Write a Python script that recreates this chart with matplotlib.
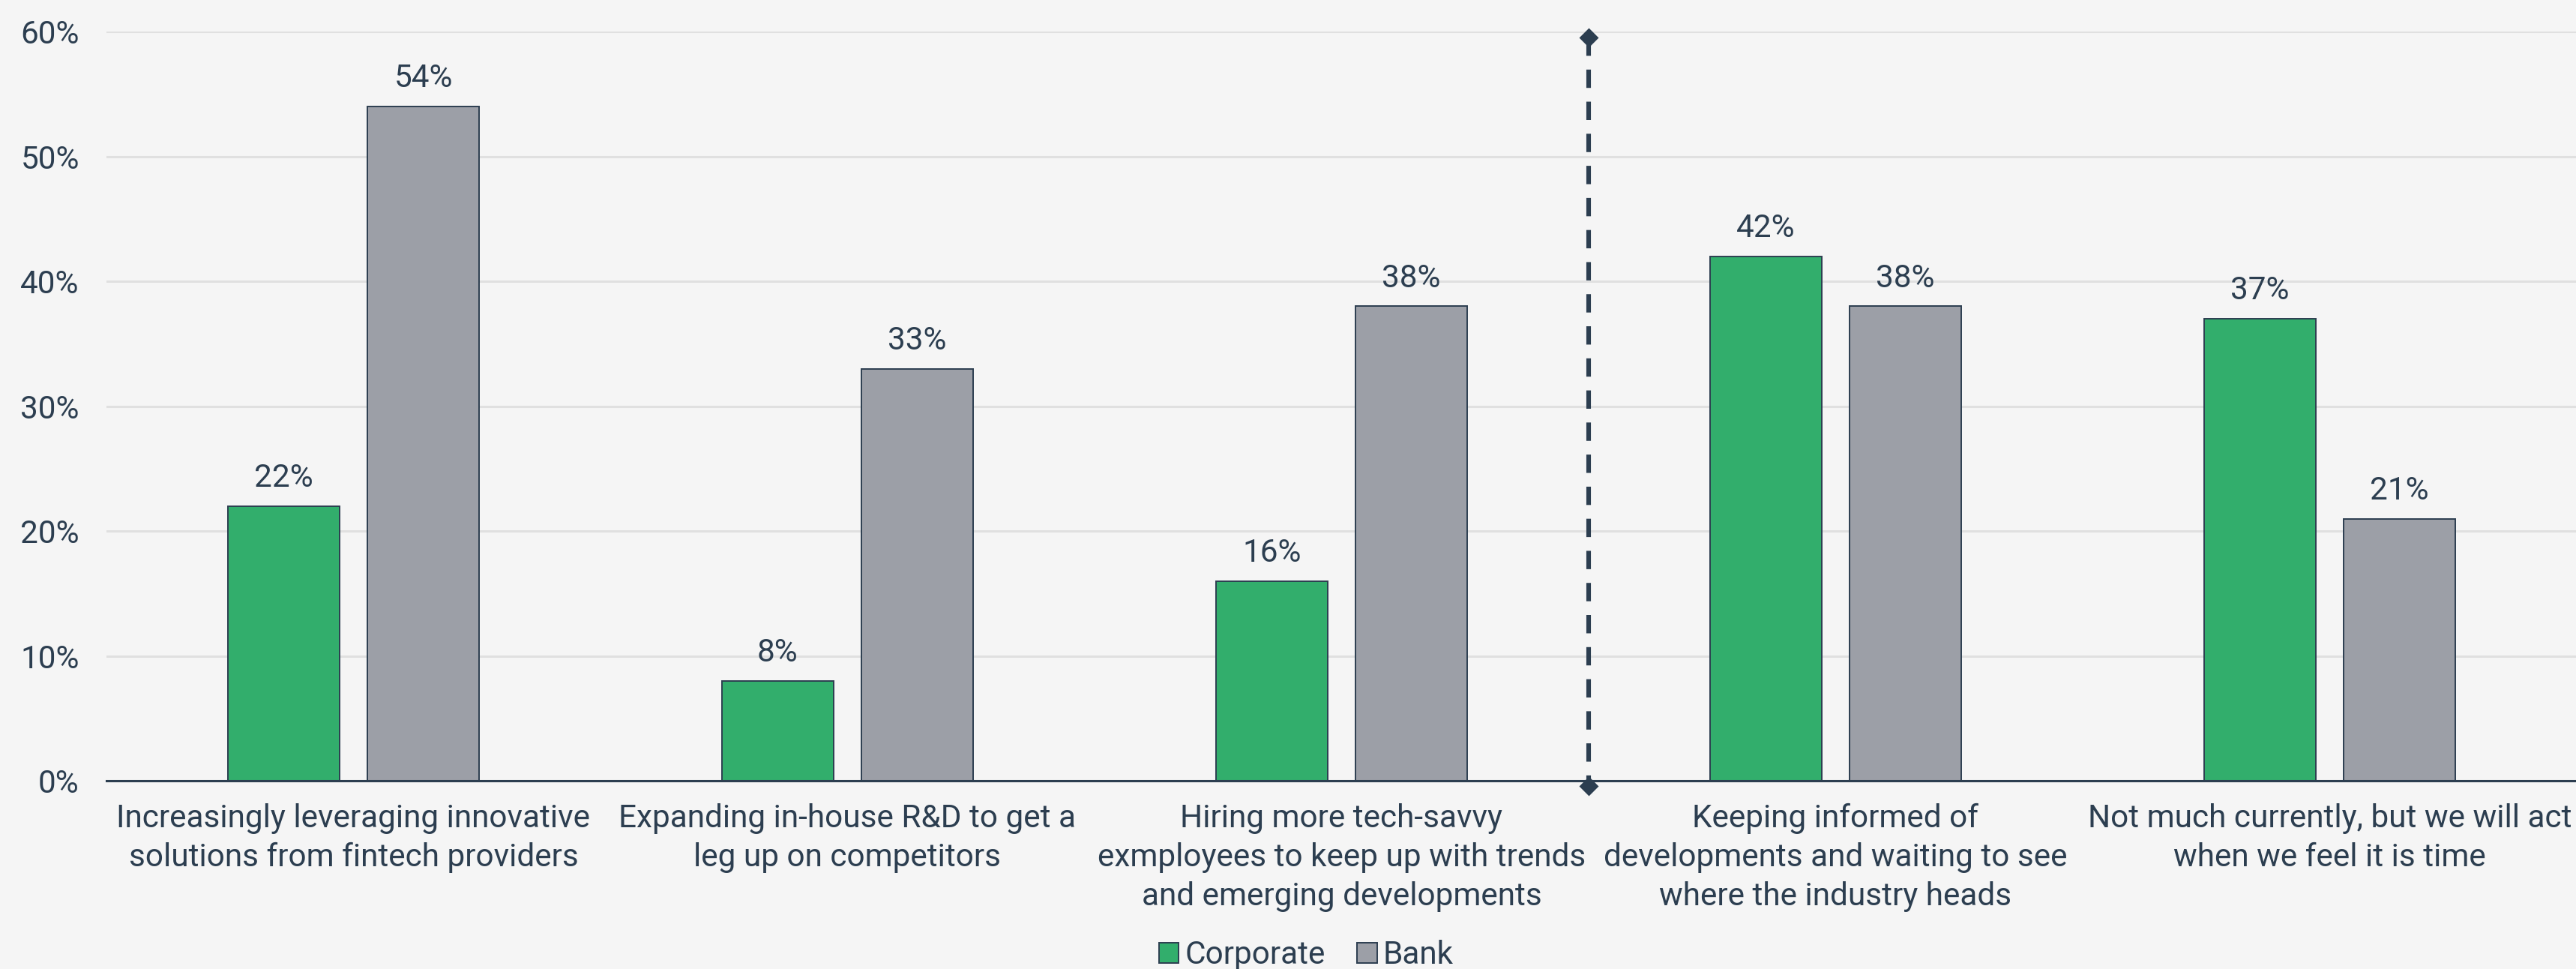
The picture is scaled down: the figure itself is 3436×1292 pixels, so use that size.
import matplotlib
matplotlib.use("Agg")
import matplotlib.pyplot as plt
from matplotlib.patches import Patch
import numpy as np

plt.rcParams['font.family'] = ['Roboto', 'DejaVu Sans']

categories = [
    "Increasingly leveraging innovative\nsolutions from fintech providers",
    "Expanding in-house R&D to get a\nleg up on competitors",
    "Hiring more tech-savvy\nexmployees to keep up with trends\nand emerging developments",
    "Keeping informed of\ndevelopments and waiting to see\nwhere the industry heads",
    "Not much currently, but we will act\nwhen we feel it is time",
]
corporate = [22, 8, 16, 42, 37]
bank = [54, 33, 38, 38, 21]
series_names = ["Corporate", "Bank"]
yticks = [0, 10, 20, 30, 40, 50, 60]

TEXT = "#2c3e50"
GREEN = "#32ae6c"
GRAY = "#9c9fa7"
BG = "#f5f5f5"
FS = 15.2

fig = plt.figure(figsize=(17.185, 6.46), dpi=200, facecolor=BG)
ax = fig.add_axes([0.0413, 0.194, 0.9587, 0.7735])
ax.set_facecolor(BG)

x = np.arange(len(categories))
w = 0.226
off = 0.1415
b1 = ax.bar(x - off, corporate, w, color=GREEN, edgecolor=TEXT, linewidth=0.7, zorder=3)
b2 = ax.bar(x + off, bank, w, color=GRAY, edgecolor=TEXT, linewidth=0.7, zorder=3)

for bars, vals in ((b1, corporate), (b2, bank)):
    for r, v in zip(bars, vals):
        ax.annotate(f"{v}%", (r.get_x() + r.get_width() / 2, v), xytext=(0, 6),
                    textcoords="offset points", ha="center", va="bottom",
                    fontsize=FS, color=TEXT)

ax.set_xlim(-0.5, len(categories) - 0.5)
ax.set_ylim(0, 60)
ax.set_yticks(yticks)
ax.set_yticklabels([f"{t}%" for t in yticks])
ax.set_xticks(x)
ax.set_xticklabels(categories, linespacing=1.35)
ax.tick_params(axis="both", length=0, labelsize=FS, colors=TEXT)
ax.tick_params(axis="y", pad=13)
ax.tick_params(axis="x", pad=10.5)
ax.grid(axis="y", color="#e0e0e0", linewidth=1.1, zorder=0)
for s in ["top", "right", "left"]:
    ax.spines[s].set_visible(False)
ax.spines["bottom"].set_color(TEXT)
ax.spines["bottom"].set_linewidth(1.1)
ax.spines["bottom"].set_zorder(4)

# divider between the two answer groups
ax.plot([2.5, 2.5], [59.5, -0.4], color=TEXT, linewidth=2.2, dashes=(4, 3),
        marker="D", markersize=5.5, clip_on=False, zorder=5)

handles = [Patch(facecolor=GREEN, edgecolor=TEXT, linewidth=0.7),
           Patch(facecolor=GRAY, edgecolor=TEXT, linewidth=0.7)]
fig.legend(handles, series_names, loc="center", bbox_to_anchor=(0.507, 0.014),
           ncol=2, frameon=False, fontsize=FS, labelcolor=TEXT,
           handlelength=0.62, handleheight=0.62, handletextpad=0.2,
           columnspacing=1.0, borderpad=0)

fig.savefig("out.png", dpi=200, facecolor=BG)
